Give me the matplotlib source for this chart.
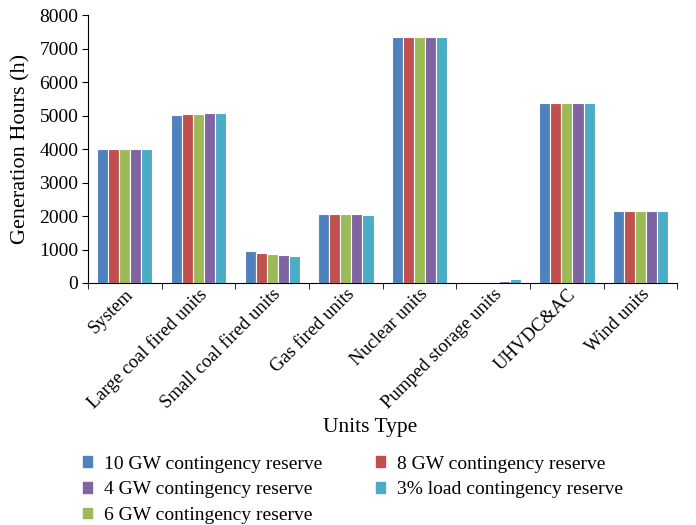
import numpy as np
import matplotlib
matplotlib.use("Agg")
import matplotlib.pyplot as plt
from matplotlib.patches import Patch

plt.rcParams['font.family'] = ['Liberation Serif', 'DejaVu Serif']

categories = ["System", "Large coal fired units", "Small coal fired units",
              "Gas fired units", "Nuclear units", "Pumped storage units",
              "UHVDC&AC", "Wind units"]

# generation hours per reserve scenario
gw10 = [4010, 5030, 950, 2060, 7340, 30, 5390, 2140]
gw8 = [4010, 5050, 910, 2060, 7340, 30, 5390, 2140]
gw6 = [4010, 5060, 870, 2050, 7340, 35, 5390, 2140]
gw4 = [4010, 5070, 840, 2050, 7340, 60, 5390, 2140]
load3 = [4010, 5070, 810, 2040, 7340, 120, 5390, 2140]

series = [gw10, gw8, gw6, gw4, load3]
names = ["10 GW contingency reserve", "8 GW contingency reserve",
         "6 GW contingency reserve", "4 GW contingency reserve",
         "3% load contingency reserve"]
colores = ["#4F81BD", "#C0504D", "#9BBB59", "#8064A2", "#4BACC6"]

fig = plt.figure(figsize=(6.96, 5.25), dpi=100)
ax = fig.add_axes([0.1264, 0.461, 0.847, 0.510])

x = np.arange(len(categories))
w = 0.15
for i, (vals, c) in enumerate(zip(series, colores)):
    ax.bar(x + (i - 2) * w, vals, w, color=c, edgecolor="white", linewidth=0.8)

ax.set_xlim(-0.5, len(categories) - 0.5)
ax.set_ylim(0, 8000)
ax.set_yticks(np.arange(0, 8001, 1000))
ax.set_xticks(x)
ax.set_xticklabels(categories, rotation=45, ha="right", rotation_mode="anchor", fontsize=13.5)
ax.set_xticks(np.arange(-0.5, len(categories)), minor=True)
ax.tick_params(axis="x", which="major", length=0, pad=2)
ax.tick_params(axis="x", which="minor", length=4, direction="out")
ax.tick_params(axis="y", labelsize=14, length=4, direction="out", pad=3)
for s in ["top", "right"]:
    ax.spines[s].set_visible(False)
ax.set_ylabel("Generation Hours (h)", fontsize=16, labelpad=6)
fig.text(0.532, 0.185, "Units Type", fontsize=15.5, ha="center", va="center")

# legend order fills columns: 10, 4, 6 | 8, 3%
order = [0, 3, 2, 1, 4]
handles = [Patch(color=colores[k]) for k in order]
labels = [names[k] for k in order]
fig.legend(handles, labels, ncol=2, loc="upper left", bbox_to_anchor=(0.108, 0.147),
           frameon=False, fontsize=14, handlelength=0.45, handleheight=0.45,
           handletextpad=0.65, columnspacing=2.75, labelspacing=0.45, borderaxespad=0)

fig.savefig("out.png", dpi=100)
